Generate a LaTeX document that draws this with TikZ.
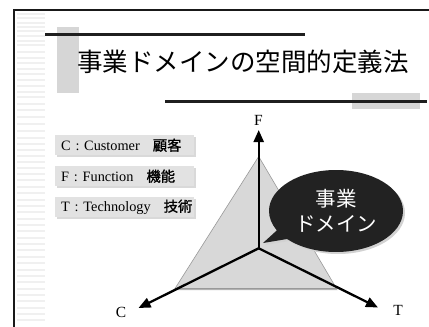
\documentclass[tikz,border=0pt]{standalone}
\usepackage{fontspec}
\setmainfont{Liberation Serif}
\newfontfamily\jp{Noto Sans CJK JP}
\newfontfamily\jpb[FakeBold=1.2]{Noto Sans CJK JP}
\usetikzlibrary{arrows.meta,shapes.callouts,shadows,calc}
\definecolor{boxgray}{HTML}{E2E2E2}
\definecolor{trigray}{HTML}{D8D8D8}
\definecolor{rectgray}{HTML}{D6D6D6}
\definecolor{stripegray}{HTML}{F0F0F0}
\definecolor{darkfill}{HTML}{222222}
\newcommand{\legtext}[1]{\makebox[127pt][l]{#1}}
\tikzset{
  legendbox/.style={draw=none, fill=boxgray, anchor=north west, minimum height=20pt,
    text width=127pt, inner xsep=6pt, inner ysep=0pt, align=left,
    drop shadow={shadow xshift=2pt, shadow yshift=-2pt, fill=gray!30, opacity=1},
    font=\fontsize{14.3}{16}\selectfont},
  axislabel/.style={font=\fontsize{15.5}{17}\selectfont, inner sep=0pt},
  axis/.style={line width=2.3pt, -{Triangle[length=12pt,width=10pt]}},
  bar/.style={line width=3pt, draw=black!88},
}
\begin{document}
\begin{tikzpicture}[x=1pt,y=-1pt]
\useasboundingbox (0,0) rectangle (429,327);
\fill[white] (0,0) rectangle (429,327);
% left stripes
\foreach \yy in {14,18,23,27,31,36,41,45,52,58,63,69,74,80,86,92,97,104,110,117,124,131,138,144,150,156,162,168,174,180,187,193,200,206,212,219,225,231,238,244,250,257,263,270,276,282,289,295,301,308,314,320}
  \draw[stripegray, line width=1.2pt] (17,\yy) -- (45,\yy);
% frame
\draw[line width=2.4pt, black!90] (14,327) -- (14,10) -- (429,10);
% title decorations
\fill[rectgray] (57,27) rectangle (79,93);
\draw[bar] (45,34) -- (305,34);
\fill[rectgray] (352,93) rectangle (420,109);
\draw[bar] (165,101) -- (427,101);
\node[font=\jp\fontsize{25.5}{30}\selectfont, inner sep=0pt] (title) at (243,62) {事業ドメインの空間的定義法};
% legend
\node[legendbox] (lc) at (55,135) {\legtext{C : Customer\hspace{13pt}{\jpb 顧客}}};
\node[legendbox] (lf) at (55,166) {\legtext{F : Function\hspace{13pt}{\jpb 機能}}};
\node[legendbox] (lt) at (55,197) {\legtext{T : Technology\hspace{13pt}{\jpb 技術}}};
% triangle
\coordinate (apex) at (258.7,156.5);
\coordinate (bl) at (175,288.5);
\coordinate (br) at (336.5,288.5);
\fill[gray!60] (bl) -- (br) -- ($(br)+(1,1.5)$) -- ($(bl)+(1,1.5)$) -- cycle;
\draw[fill=trigray, draw=gray!80, line width=0.6pt] (apex) -- (bl) -- (br) -- cycle;
% axes
\coordinate (O) at (258.7,248.3);
\coordinate (Fend) at (258.7,130);
\coordinate (Tend) at (378,307.5);
\coordinate (Cend) at (138.5,308);
\draw[axis] (O) -- (Fend);
\draw[axis] (O) -- (Tend);
\draw[axis] (O) -- (Cend);
\node[axislabel] (F) at (258.5,120.5) {F};
\node[axislabel] (T) at (398,310) {T};
\node[axislabel] (C) at (121,312.5) {C};
% callout
\node[ellipse callout, fill=darkfill, draw=none, minimum width=134pt, minimum height=82pt,
  inner sep=0pt, callout absolute pointer={(263,243)},
  drop shadow={shadow xshift=2pt, shadow yshift=-2pt, fill=gray!35, opacity=1},
  text=white, align=center, font=\jp\fontsize{20.5}{25}\selectfont] (dom) at (336,211) {事業\\ドメイン};
\end{tikzpicture}
\end{document}
